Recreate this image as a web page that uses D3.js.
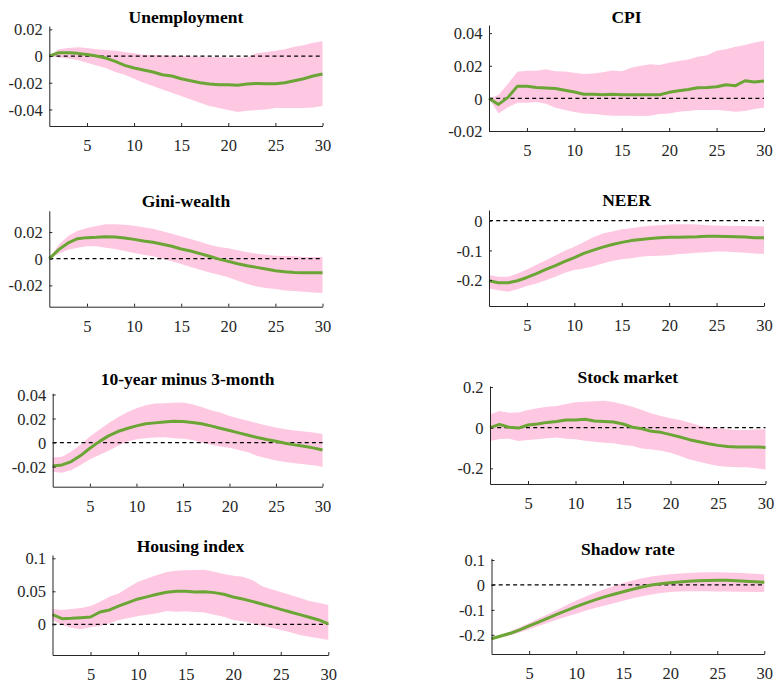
<!DOCTYPE html>
<html>
<head>
<meta charset="utf-8">
<script src="https://cdn.jsdelivr.net/npm/d3@7"></script>
<style>
  html, body { margin: 0; padding: 0; background: #fff; }
  svg { display: block; }
</style>
</head>
<body>
<svg id="chart" width="776" height="682"></svg>
<script>
// ---------------- DATA ----------------
const horizons = d3.range(1, 31);
const xTicks = [5, 10, 15, 20, 25, 30];

const titles = ["Unemployment", "CPI", "Gini-wealth", "NEER",
                "10-year minus 3-month", "Stock market", "Housing index", "Shadow rate"];

// y-axis limits and ticks per panel
const yLimits = [
  [-0.0524, 0.0225], [-0.02, 0.045], [-0.036, 0.036], [-0.287, 0.036],
  [-0.0367, 0.041], [-0.277, 0.205], [-0.0465, 0.105], [-0.277, 0.107]
];
const yTickValues = [
  [-0.04, -0.02, 0, 0.02], [-0.02, 0, 0.02, 0.04], [-0.02, 0, 0.02], [-0.2, -0.1, 0],
  [-0.02, 0, 0.02, 0.04], [-0.2, 0, 0.2], [0, 0.05, 0.1], [-0.2, -0.1, 0, 0.1]
];
const yTickLabels = [
  ["-0.04", "-0.02", "0", "0.02"], ["-0.02", "0", "0.02", "0.04"], ["-0.02", "0", "0.02"], ["-0.2", "-0.1", "0"],
  ["-0.02", "0", "0.02", "0.04"], ["-0.2", "0", "0.2"], ["0", "0.05", "0.1"], ["-0.2", "-0.1", "0", "0.1"]
];

// median responses
const unemploymentMid = [0, 0.0025, 0.0025, 0.002, 0.0012, 0, -0.0015, -0.004, -0.007, -0.009,
  -0.0105, -0.012, -0.014, -0.015, -0.017, -0.0185, -0.020, -0.021, -0.0215, -0.0215,
  -0.0218, -0.021, -0.0205, -0.0208, -0.0208, -0.020, -0.0185, -0.017, -0.015, -0.0135];
const unemploymentHi = [0, 0.005, 0.006, 0.0065, 0.006, 0.005, 0.0045, 0.004, 0.003, 0.002,
  0.001, 0.0008, 0.0005, 0.0002, 0, -0.0003, -0.0005, -0.0007, -0.0008, -0.001,
  -0.001, -0.001, 0.002, 0.003, 0.004, 0.005, 0.007, 0.008, 0.010, 0.011];
const unemploymentLo = [0, -0.001, -0.0018, -0.003, -0.005, -0.007, -0.009, -0.012, -0.014, -0.017,
  -0.020, -0.0225, -0.025, -0.0275, -0.030, -0.0325, -0.035, -0.0375, -0.039, -0.0405,
  -0.042, -0.041, -0.0405, -0.040, -0.039, -0.039, -0.039, -0.039, -0.0385, -0.0375];

const cpiMid = [0, -0.0037, 0.0006, 0.0075, 0.0075, 0.0067, 0.0063, 0.006, 0.005, 0.0039,
  0.0025, 0.0025, 0.0022, 0.0025, 0.0022, 0.0022, 0.0022, 0.0022, 0.0022, 0.0037,
  0.0047, 0.0055, 0.0065, 0.0067, 0.0071, 0.0084, 0.0078, 0.0108, 0.010, 0.0106];
const cpiHi = [0, 0.002, 0.009, 0.0163, 0.017, 0.017, 0.0178, 0.0167, 0.0165, 0.0157,
  0.0149, 0.0153, 0.0161, 0.0171, 0.0167, 0.0188, 0.020, 0.021, 0.0204, 0.0218,
  0.0229, 0.0239, 0.0255, 0.0265, 0.0292, 0.0302, 0.0316, 0.0327, 0.0343, 0.0353];
const cpiLo = [0, -0.0092, -0.0055, -0.0027, -0.0027, -0.0022, -0.0033, -0.0057, -0.0071, -0.0084,
  -0.0092, -0.0096, -0.0102, -0.0106, -0.0106, -0.0106, -0.0108, -0.0106, -0.0096, -0.0092,
  -0.0082, -0.0078, -0.0071, -0.0071, -0.0071, -0.0076, -0.0082, -0.0078, -0.0065, -0.0057];

const giniMid = [0, 0.0068, 0.0118, 0.015, 0.0158, 0.016, 0.0165, 0.0163, 0.0155, 0.0145,
  0.0133, 0.0123, 0.0108, 0.0093, 0.0073, 0.0058, 0.0038, 0.0018, -0.0003, -0.002,
  -0.0038, -0.0053, -0.0065, -0.0078, -0.009, -0.0098, -0.0103, -0.0105, -0.0105, -0.0105];
const giniHi = [0, 0.0105, 0.017, 0.021, 0.023, 0.0245, 0.0258, 0.0258, 0.0255, 0.0248,
  0.0235, 0.0225, 0.0205, 0.0188, 0.0168, 0.0148, 0.0128, 0.0105, 0.0088, 0.0078,
  0.0063, 0.0048, 0.0038, 0.003, 0.0023, 0.002, 0.0018, 0.0013, 0.0013, 0.0013];
const giniLo = [0, 0.0038, 0.0068, 0.0083, 0.0093, 0.0093, 0.0083, 0.0073, 0.0058, 0.0043,
  0.003, 0.0018, 0, -0.002, -0.004, -0.0063, -0.0083, -0.0103, -0.012, -0.014,
  -0.0165, -0.019, -0.0208, -0.022, -0.0228, -0.0238, -0.0243, -0.0248, -0.0253, -0.0258];

const neerMid = [-0.202, -0.209, -0.209, -0.202, -0.191, -0.178, -0.164, -0.151, -0.137, -0.124,
  -0.110, -0.099, -0.089, -0.080, -0.073, -0.067, -0.063, -0.060, -0.057, -0.056,
  -0.056, -0.055, -0.054, -0.052, -0.052, -0.053, -0.054, -0.055, -0.057, -0.057];
const neerHi = [-0.183, -0.189, -0.189, -0.178, -0.164, -0.148, -0.133, -0.117, -0.101, -0.088,
  -0.072, -0.056, -0.043, -0.036, -0.029, -0.025, -0.020, -0.017, -0.015, -0.013,
  -0.012, -0.012, -0.013, -0.015, -0.016, -0.017, -0.018, -0.018, -0.019, -0.019];
const neerLo = [-0.228, -0.234, -0.239, -0.231, -0.220, -0.211, -0.200, -0.189, -0.175, -0.166,
  -0.161, -0.153, -0.144, -0.136, -0.130, -0.126, -0.121, -0.119, -0.118, -0.116,
  -0.112, -0.110, -0.108, -0.106, -0.104, -0.104, -0.106, -0.108, -0.110, -0.112];

const spreadMid = [-0.0194, -0.0186, -0.0158, -0.0108, -0.0047, 0.0008, 0.0056, 0.0092, 0.0117, 0.0139,
  0.0156, 0.0164, 0.0172, 0.0178, 0.0175, 0.0167, 0.0156, 0.0139, 0.0119, 0.010,
  0.0081, 0.0061, 0.0042, 0.0025, 0.0011, -0.0006, -0.0019, -0.0031, -0.0044, -0.0061];
const spreadHi = [-0.0125, -0.0117, -0.0075, -0.0019, 0.005, 0.0106, 0.0161, 0.0211, 0.0253, 0.0286,
  0.0311, 0.0325, 0.0328, 0.0331, 0.0333, 0.0319, 0.0297, 0.0269, 0.025, 0.0222,
  0.020, 0.0181, 0.0161, 0.0142, 0.0125, 0.0111, 0.010, 0.0092, 0.0083, 0.0072];
const spreadLo = [-0.0242, -0.025, -0.0228, -0.0186, -0.0139, -0.0103, -0.0067, -0.0028, 0.0008, 0.0028,
  0.0036, 0.0042, 0.0044, 0.0036, 0.0031, 0.0022, 0, -0.0019, -0.0033, -0.0042,
  -0.0061, -0.0081, -0.0111, -0.0131, -0.015, -0.0161, -0.0172, -0.0181, -0.0189, -0.020];

const stockMid = [0, 0.016, 0.002, -0.002, 0.013, 0.018, 0.026, 0.030, 0.038, 0.038,
  0.041, 0.033, 0.031, 0.028, 0.018, 0.002, -0.005, -0.018, -0.023, -0.034,
  -0.046, -0.059, -0.069, -0.079, -0.087, -0.093, -0.095, -0.095, -0.095, -0.097];
const stockHi = [0.066, 0.082, 0.074, 0.075, 0.087, 0.095, 0.103, 0.107, 0.116, 0.125,
  0.128, 0.130, 0.133, 0.126, 0.115, 0.103, 0.087, 0.070, 0.057, 0.046,
  0.038, 0.026, 0.011, 0.002, -0.003, -0.008, -0.011, -0.011, -0.008, -0.008];
const stockLo = [-0.066, -0.056, -0.054, -0.066, -0.061, -0.057, -0.052, -0.048, -0.054, -0.057,
  -0.064, -0.069, -0.074, -0.077, -0.085, -0.090, -0.102, -0.107, -0.113, -0.123,
  -0.139, -0.156, -0.167, -0.179, -0.189, -0.192, -0.195, -0.195, -0.200, -0.205];

const housingMid = [0.0146, 0.0086, 0.0091, 0.0101, 0.0111, 0.0187, 0.0217, 0.0278, 0.0333, 0.0384,
  0.0419, 0.0455, 0.0485, 0.050, 0.050, 0.049, 0.0495, 0.048, 0.0455, 0.0414,
  0.0384, 0.0348, 0.0308, 0.0268, 0.0227, 0.0187, 0.0146, 0.0106, 0.0066, 0.0008];
const housingHi = [0.0232, 0.0217, 0.0232, 0.0247, 0.0278, 0.0343, 0.0419, 0.047, 0.056, 0.0646,
  0.0697, 0.0747, 0.0793, 0.0813, 0.0818, 0.0823, 0.0828, 0.0798, 0.0763, 0.0737,
  0.0722, 0.0672, 0.0581, 0.053, 0.049, 0.0444, 0.0404, 0.0354, 0.0328, 0.0293];
const housingLo = [0.0066, -0.001, -0.0051, -0.0076, -0.0045, -0.0025, 0.0015, 0.0066, 0.0096, 0.0126,
  0.0146, 0.0167, 0.0202, 0.0192, 0.0197, 0.0187, 0.0177, 0.0146, 0.0116, 0.0066,
  0.0045, 0.0015, -0.002, -0.0051, -0.0086, -0.0121, -0.0162, -0.0187, -0.0212, -0.0237];

const shadowMid = [-0.216, -0.205, -0.194, -0.180, -0.164, -0.149, -0.133, -0.117, -0.102, -0.087,
  -0.073, -0.060, -0.048, -0.037, -0.027, -0.017, -0.008, 0.000, 0.005, 0.009,
  0.012, 0.015, 0.017, 0.018, 0.019, 0.019, 0.017, 0.015, 0.013, 0.011];
const shadowHi = [-0.213, -0.200, -0.186, -0.170, -0.153, -0.135, -0.117, -0.099, -0.080, -0.062,
  -0.046, -0.031, -0.017, -0.004, 0.008, 0.018, 0.027, 0.034, 0.039, 0.043,
  0.046, 0.048, 0.050, 0.051, 0.051, 0.050, 0.049, 0.047, 0.045, 0.043];
const shadowLo = [-0.219, -0.211, -0.202, -0.191, -0.178, -0.165, -0.152, -0.139, -0.127, -0.115,
  -0.103, -0.092, -0.083, -0.073, -0.063, -0.053, -0.045, -0.038, -0.032, -0.028,
  -0.026, -0.025, -0.025, -0.025, -0.026, -0.026, -0.027, -0.027, -0.028, -0.028];

const mids = [unemploymentMid, cpiMid, giniMid, neerMid, spreadMid, stockMid, housingMid, shadowMid];
const his  = [unemploymentHi, cpiHi, giniHi, neerHi, spreadHi, stockHi, housingHi, shadowHi];
const los  = [unemploymentLo, cpiLo, giniLo, neerLo, spreadLo, stockLo, housingLo, shadowLo];

// ---------------- LAYOUT ----------------
// plot-area boxes [left, right, top, bottom] in pixels
const boxes = [
  [49.3, 322.5, 26, 126], [489, 764, 25, 131],
  [49.3, 322.5, 210.7, 306.7], [489, 764, 210, 306],
  [52.7, 322.5, 393.3, 486.7], [490, 765.5, 386, 484],
  [52.5, 328.3, 555, 655], [491.5, 764.3, 558.3, 654]
];
const titleY = [17, 17, 201, 200, 378.5, 377, 546, 549];

const svg = d3.select("#chart");
const FONT = "'Liberation Serif', 'Times New Roman', serif";
const axisColor = "#262626";

titles.forEach((t, i) => {
  const [l, r, tp, b] = boxes[i];
  const x = d3.scaleLinear().domain([1, 30]).range([l, r]);
  const y = d3.scaleLinear().domain(yLimits[i]).range([b, tp]);
  const g = svg.append("g");

  const data = horizons.map((h, k) => ({ h, m: mids[i][k], hi: his[i][k], lo: los[i][k] }));

  g.append("path")
    .datum(data)
    .attr("fill", "#ffc8e2")
    .attr("stroke", "none")
    .attr("d", d3.area().x(d => x(d.h)).y0(d => y(d.lo)).y1(d => y(d.hi)));

  g.append("line")
    .attr("x1", x(1)).attr("x2", x(30))
    .attr("y1", y(0)).attr("y2", y(0))
    .attr("stroke", "#000").attr("stroke-width", 1.2)
    .attr("stroke-dasharray", "4,3.2");

  g.append("path")
    .datum(data)
    .attr("fill", "none")
    .attr("stroke", "#6aa535")
    .attr("stroke-width", 3)
    .attr("stroke-linejoin", "round")
    .attr("d", d3.line().x(d => x(d.h)).y(d => y(d.m)));

  // x axis (ticks inward)
  const xa = g.append("g")
    .attr("transform", `translate(0,${b})`)
    .call(d3.axisBottom(x).tickValues(xTicks).tickSize(-3).tickPadding(0).tickSizeOuter(0));
  xa.select(".domain").attr("stroke", axisColor).attr("stroke-width", 1);
  xa.selectAll(".tick line").attr("stroke", axisColor);
  xa.selectAll(".tick text")
    .attr("font-family", FONT).attr("font-size", "16.5px").attr("fill", "#262626")
    .attr("y", 0).attr("dy", "25px");

  // y axis (ticks inward)
  const ya = g.append("g")
    .attr("transform", `translate(${l},0)`)
    .call(d3.axisLeft(y).tickValues(yTickValues[i])
      .tickFormat((d, k) => yTickLabels[i][k]).tickSize(-3).tickPadding(0).tickSizeOuter(0));
  ya.select(".domain").attr("stroke", axisColor).attr("stroke-width", 1);
  ya.selectAll(".tick line").attr("stroke", axisColor);
  ya.selectAll(".tick text")
    .attr("font-family", FONT).attr("font-size", "16.5px").attr("fill", "#262626")
    .attr("x", -6.5).attr("dy", "0.34em");

  g.append("text")
    .attr("x", (l + r) / 2).attr("y", titleY[i])
    .attr("text-anchor", "middle").attr("dominant-baseline", "central")
    .attr("font-family", FONT).attr("font-weight", "bold").attr("font-size", "17.5px")
    .attr("fill", "#000")
    .text(t);
});
</script>
</body>
</html>
